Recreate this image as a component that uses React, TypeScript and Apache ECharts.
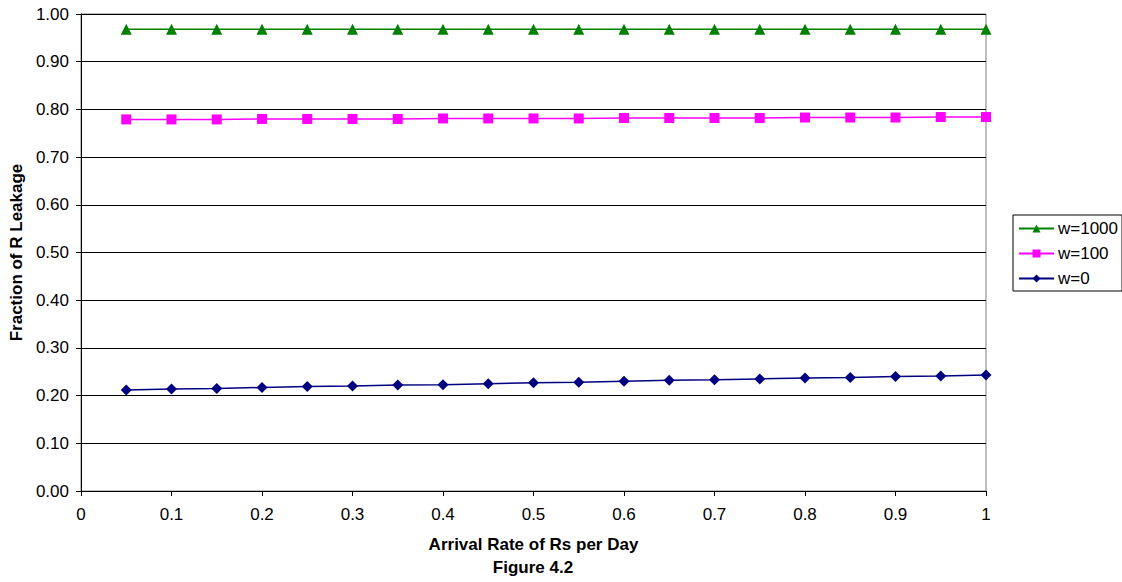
import React, { useEffect, useRef } from "react";
import * as echarts from "echarts";

const xValues = [0.05, 0.1, 0.15, 0.2, 0.25, 0.3, 0.35, 0.4, 0.45, 0.5, 0.55, 0.6, 0.65, 0.7, 0.75, 0.8, 0.85, 0.9, 0.95, 1.0];
const w1000 = [0.968, 0.968, 0.968, 0.968, 0.968, 0.968, 0.968, 0.968, 0.968, 0.968, 0.968, 0.968, 0.968, 0.968, 0.968, 0.968, 0.968, 0.968, 0.968, 0.968];
const w100 = [0.779, 0.779, 0.779, 0.780, 0.780, 0.780, 0.780, 0.781, 0.781, 0.781, 0.781, 0.782, 0.782, 0.782, 0.782, 0.783, 0.783, 0.783, 0.784, 0.784];
const w0 = [0.212, 0.214, 0.215, 0.217, 0.219, 0.220, 0.222, 0.223, 0.225, 0.227, 0.228, 0.230, 0.232, 0.233, 0.235, 0.237, 0.238, 0.240, 0.241, 0.243];
const seriesNames = ["w=1000", "w=100", "w=0"];
const xAxisTitle = "Arrival Rate of Rs per Day";
const yAxisTitle = "Fraction of R Leakage";
const caption = "Figure 4.2";

const FONT = "Liberation Sans, Arial, sans-serif";

export default function App() {
  const ref = useRef<HTMLDivElement>(null);
  useEffect(() => {
    if (!ref.current) return;
    const chart = echarts.init(ref.current, undefined, { renderer: "svg" });
    const pair = (ys: number[]) => xValues.map((x, i) => [x, ys[i]]);
    chart.setOption({
      animation: false,
      backgroundColor: "#ffffff",
      textStyle: { fontFamily: FONT },
      grid: {
        left: 80,
        right: 136,
        top: 14,
        bottom: 91,
        show: true,
        borderColor: "#808080",
        borderWidth: 1,
      },
      legend: {
        orient: "vertical",
        left: 1013,
        top: 215,
        data: seriesNames,
        borderColor: "#000000",
        borderWidth: 1,
        borderRadius: 0,
        padding: [5, 4, 4, 5],
        itemGap: 8,
        itemWidth: 35,
        itemHeight: 10,
        textStyle: { fontSize: 17, color: "#000", fontFamily: FONT, padding: [0, 0, 0, -1] },
      },
      xAxis: {
        type: "value",
        min: 0,
        max: 1,
        interval: 0.1,
        name: xAxisTitle,
        nameLocation: "middle",
        nameGap: 45,
        nameTextStyle: { fontSize: 17, fontWeight: "bold", color: "#000", fontFamily: FONT },
        axisLine: { lineStyle: { color: "#000", width: 1 } },
        axisTick: { show: true, inside: false, length: 5, lineStyle: { color: "#000" } },
        axisLabel: {
          fontSize: 17,
          color: "#000",
          margin: 15,
          formatter: (v: number) => (v === 0 ? "0" : v === 1 ? "1" : v.toFixed(1)),
        },
        splitLine: { show: false },
      },
      yAxis: {
        type: "value",
        min: 0,
        max: 1,
        interval: 0.1,
        name: yAxisTitle,
        nameLocation: "middle",
        nameGap: 53,
        nameRotate: 90,
        nameTextStyle: { fontSize: 17, fontWeight: "bold", color: "#000", fontFamily: FONT },
        axisLine: { show: true, lineStyle: { color: "#000", width: 1 } },
        axisTick: { show: true, inside: false, length: 5, lineStyle: { color: "#000" } },
        axisLabel: {
          fontSize: 17,
          color: "#000",
          margin: 12,
          formatter: (v: number) => v.toFixed(2),
        },
        splitLine: { show: true, lineStyle: { color: "#000", width: 1 } },
      },
      series: [
        {
          name: seriesNames[0],
          type: "line",
          data: pair(w1000),
          symbol: "triangle",
          symbolSize: 11,
          lineStyle: { color: "#008000", width: 1.5 },
          itemStyle: { color: "#008000" },
        },
        {
          name: seriesNames[1],
          type: "line",
          data: pair(w100),
          symbol: "rect",
          symbolSize: 10,
          lineStyle: { color: "#FF00FF", width: 1.5 },
          itemStyle: { color: "#FF00FF" },
        },
        {
          name: seriesNames[2],
          type: "line",
          data: pair(w0),
          symbol: "diamond",
          symbolSize: 11,
          lineStyle: { color: "#000080", width: 1.5 },
          itemStyle: { color: "#000080" },
        },
      ],
      graphic: [
        {
          type: "text",
          x: 533,
          y: 567,
          style: {
            text: caption,
            fontSize: 17,
            fontWeight: "bold",
            fill: "#000",
            fontFamily: FONT,
            align: "center",
            verticalAlign: "middle",
          },
        },
      ],
    });
    return () => chart.dispose();
  }, []);
  return (
    <div
      ref={ref}
      style={{ position: "fixed", left: 0, top: 0, width: 1122, height: 582, background: "#fff" }}
    />
  );
}
